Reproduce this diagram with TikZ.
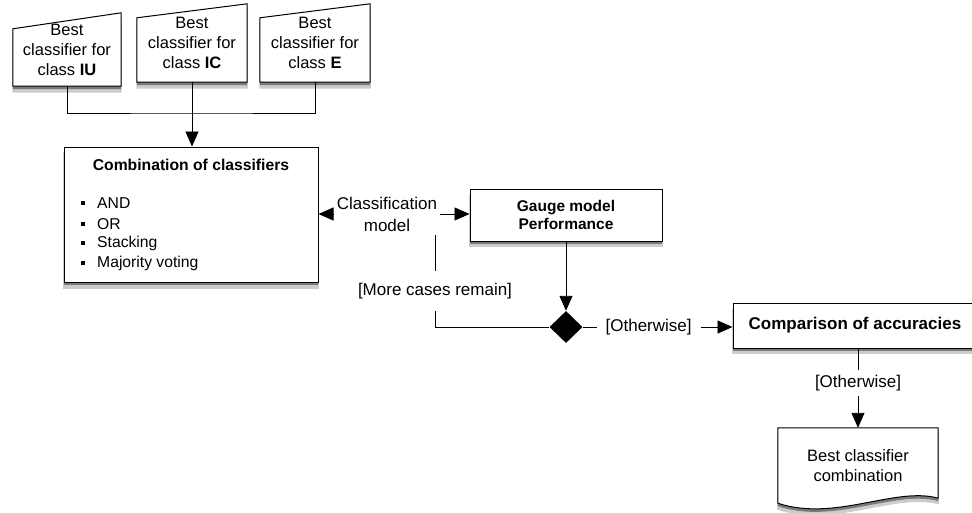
\documentclass[tikz,border=0pt]{standalone}
\usepackage{fontspec}
\setmainfont{Liberation Sans}
\usetikzlibrary{arrows.meta,shapes.geometric,shadows,backgrounds,calc}
\newcommand\fnode{\fontsize{16.5}{20}\selectfont}
\newcommand\flbl{\fontsize{17}{22}\selectfont}
\newcommand\fitem{\fontsize{15.7}{19}\selectfont}
\newcommand\fgauge{\fontsize{15.5}{18}\selectfont}
\newcommand\fbig{\fontsize{17}{20}\selectfont}
\tikzset{
  shadowed/.style={drop shadow={shadow xshift=0pt,shadow yshift=-3pt,opacity=.4,fill=black},
                   drop shadow={shadow xshift=0pt,shadow yshift=-6pt,shadow scale=1.01,opacity=.2,fill=black}},
  boxline/.style={draw=black,line width=1pt,fill=white,shadowed},
  box/.style={boxline,inner sep=0pt,align=center},
  plain/.style={inner sep=0pt,align=center},
  lbl/.style={font=\flbl,inner sep=3pt,align=center},
  conn/.style={draw=black,line width=0.9pt},
  arr/.style={conn,-{Triangle[length=15pt,width=13pt]}},
}
\begin{document}
\begin{tikzpicture}[x=1pt,y=-1pt]
\useasboundingbox (0,0) rectangle (972,512);
% manual inputs (text only, shapes on background)
\node[plain,font=\fnode,minimum width=108pt,minimum height=73pt] (b1) at (67,49.5) {Best\\classifier for\\class \textbf{IU}};
\node[plain,font=\fnode,minimum width=110pt,minimum height=78pt] (b2) at (192,43) {Best\\classifier for\\class \textbf{IC}};
\node[plain,font=\fnode,minimum width=110pt,minimum height=78pt] (b3) at (315,43) {Best\\classifier for\\class \textbf{E}};
% combination box
\node[box,minimum width=254pt,minimum height=135pt] (comb) at (191,214.5) {};
\node[plain,font=\fitem\bfseries] (ctitle) at (191,165) {Combination of classifiers};
\foreach \i/\y/\t in {1/203/AND,2/224/OR,3/243/Stacking,4/263/Majority voting}{
  \node[fill=black,inner sep=0pt,minimum size=4pt] (bul\i) at (83,\y) {};
  \node[plain,font=\fitem,anchor=west] (item\i) at (97,\y) {\t};
}
% classification model label
\node[lbl] (cm) at (387,214) {Classification\\model};
% gauge
\node[box,font=\fgauge\bfseries,minimum width=192pt,minimum height=52pt] (gauge) at (566,215) {Gauge model\\Performance};
% decision
\node[diamond,fill=black,inner sep=0pt,shape aspect=1,minimum width=33pt,minimum height=32pt] (dia) at (566,327) {};
% comparison
\node[box,font=\fbig\bfseries,minimum width=244pt,minimum height=45pt] (comp) at (855,325.5) {Comparison of accuracies};
% document
\node[plain,font=\fnode,minimum width=160pt,minimum height=76pt] (doc) at (858,466) {Best classifier\\combination};
\coordinate (j) at (192,113);
\coordinate (loopend) at (435,235);

\begin{scope}[on background layer]
  \draw[boxline] (b1.south west) -- (b1.south east) -- (b1.north east) -- ([yshift=-16pt]b1.north west) -- cycle;
  \draw[boxline] (b2.south west) -- (b2.south east) -- (b2.north east) -- ([yshift=-14pt]b2.north west) -- cycle;
  \draw[boxline] (b3.south west) -- (b3.south east) -- (b3.north east) -- ([yshift=-14pt]b3.north west) -- cycle;
  \draw[boxline] (doc.north west) -- (doc.north east) -- ($(doc.south east)+(0,-6)$)
     .. controls ($(doc.south east)+(-43,-18)$) and ($(doc.south west)+(57,18)$) .. ($(doc.south west)+(0,-1)$) -- cycle;
\end{scope}

% connectors
\draw[conn] (b1.south) |- (j) -| (b3.south);
\draw[arr] (b2.south) -- (b2.south |- comb.north);
\draw[arr] (cm.west) -- (comb.east |- cm.west);
\draw[arr] (cm.east) -- (gauge.west |- cm.east);
\draw[arr] (gauge.south) -- (dia.north);
\draw[conn] (dia.west) -| (loopend);
\node[lbl,fill=white,inner xsep=2pt,inner ysep=12pt] (more) at (435,291) {[More cases remain]};
\draw[arr] (dia.east) -- (dia.east -| comp.west)
   node[lbl,fill=white,pos=0.44,inner xsep=9pt] (oth1) {[Otherwise]};
\draw[arr] (comp.south -| doc.north) -- (doc.north);
\node[lbl,fill=white,inner ysep=5pt] (oth2) at (858,383) {[Otherwise]};
\end{tikzpicture}
\end{document}
